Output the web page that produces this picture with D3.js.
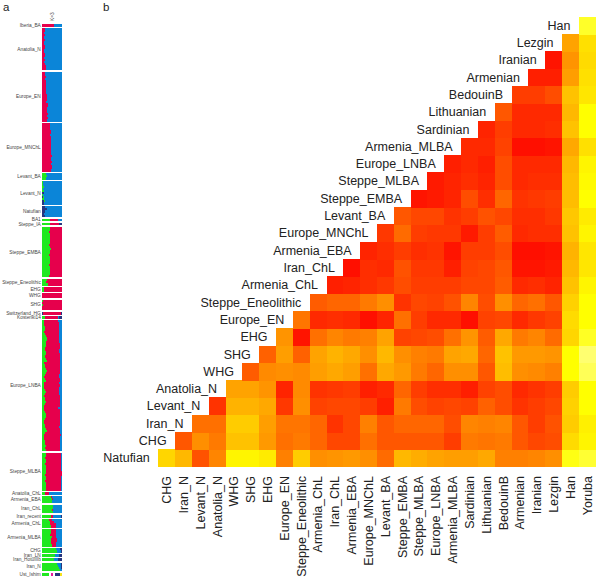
<!DOCTYPE html>
<html lang="en">

<head>
  <meta charset="UTF-8">
  <title>Admixture and f3 heatmap</title>
  <script src="https://d3js.org/d3.v7.min.js"></script>
  <style>
    body {
      margin: 0;
      background: white;
      font-family: 'Liberation Sans', Arial, sans-serif;
    }

    svg {
      display: block;
    }
  </style>
</head>

<body>
  <svg id="chart" width="600" height="578"></svg>
  <script>
    // panel b. 0 = pure red, 50 = yellow, 100 = near white
    const heatColumns = ["CHG", "Iran_N", "Levant_N", "Anatolia_N", "WHG", "SHG", "EHG", "Europe_EN",
      "Steppe_Eneolithic", "Armenia_ChL", "Iran_ChL", "Armenia_EBA", "Europe_MNChL", "Levant_BA",
      "Steppe_EMBA", "Steppe_MLBA", "Europe_LNBA", "Armenia_MLBA", "Sardinian", "Lithuanian",
      "BedouinB", "Armenian", "Iranian", "Lezgin", "Han", "Yoruba"];

    const heatRowNames = ["Natufian", "CHG", "Iran_N", "Levant_N", "Anatolia_N", "WHG", "SHG", "EHG",
      "Europe_EN", "Steppe_Eneolithic", "Armenia_ChL", "Iran_ChL", "Armenia_EBA", "Europe_MNChL",
      "Levant_BA", "Steppe_EMBA", "Steppe_MLBA", "Europe_LNBA", "Armenia_MLBA", "Sardinian",
      "Lithuanian", "BedouinB", "Armenian", "Iranian", "Lezgin", "Han"];

    // each row starts at the column with the same index (staircase)
    const heatValues = [
      [42, 36, 16, 26, 48, 48, 46, 25, 40, 28, 29, 30, 28, 21, 36, 34, 32, 31, 31, 33, 25, 25, 26, 28, 54, 60],
      [17, 28, 24, 38, 38, 30, 22, 24, 20, 14, 14, 22, 17, 17, 17, 17, 12, 24, 23, 24, 17, 14, 15, 43, 48],
      [22, 22, 40, 40, 31, 23, 23, 20, 10, 14, 25, 17, 20, 20, 20, 15, 26, 25, 26, 17, 12, 16, 40, 47],
      [10, 35, 35, 33, 11, 28, 13, 14, 14, 12, 6, 24, 15, 13, 14, 13, 19, 15, 10, 12, 14, 41, 50],
      [32, 32, 29, 7, 27, 10, 11, 12, 6, 8, 20, 12, 9, 9, 6, 13, 15, 8, 10, 12, 40, 50],
      [18, 27, 28, 27, 31, 33, 31, 22, 33, 30, 24, 20, 28, 28, 17, 37, 28, 27, 25, 50, 67],
      [19, 31, 19, 32, 35, 33, 28, 36, 28, 25, 24, 32, 33, 20, 38, 30, 30, 29, 50, 72],
      [29, 4, 22, 26, 24, 25, 32, 13, 14, 15, 22, 29, 18, 33, 24, 26, 21, 42, 57],
      [23, 8, 9, 8, 3, 7, 22, 12, 8, 8, 3, 13, 14, 8, 11, 13, 43, 50],
      [18, 20, 20, 24, 28, 10, 14, 13, 16, 26, 15, 28, 20, 22, 17, 41, 50],
      [6, 7, 9, 11, 15, 12, 12, 12, 14, 14, 18, 8, 9, 7, 38, 48],
      [3, 9, 8, 16, 11, 11, 6, 13, 14, 17, 4, 4, 5, 36, 45],
      [7, 9, 12, 9, 10, 4, 12, 12, 15, 3, 3, 4, 35, 45],
      [11, 21, 12, 11, 11, 5, 12, 18, 8, 9, 9, 38, 48],
      [17, 14, 14, 10, 12, 16, 14, 9, 9, 11, 39, 46],
      [4, 5, 7, 15, 9, 20, 10, 11, 12, 37, 50],
      [5, 7, 9, 7, 15, 8, 9, 9, 37, 49],
      [6, 8, 6, 15, 8, 8, 8, 36, 48],
      [8, 8, 13, 3, 3, 4, 33, 44],
      [7, 12, 8, 8, 9, 38, 50],
      [17, 8, 8, 8, 36, 50],
      [12, 12, 15, 38, 45],
      [6, 6, 31, 44],
      [4, 29, 43],
      [32, 44],
      [58]
    ];

    // panel a, one entry per individual: [green, crimson, left navy, right navy], blue is the rest
    const popNames = ["Iberia_BA", "Anatolia_N", "Europe_EN", "Europe_MNChL", "Levant_BA", "Levant_N",
      "Natufian", "BA1", "Steppe_IA", "Steppe_EMBA", "Steppe_Eneolithic", "EHG", "WHG", "SHG",
      "Switzerland_HG", "Kostenki14", "Europe_LNBA", "Steppe_MLBA", "Anatolia_ChL", "Armenia_EBA",
      "Iran_ChL", "Iran_recent", "Armenia_ChL", "Armenia_MLBA", "CHG", "Iran_LN", "Iran_HotuIIIb",
      "Iran_N", "Ust_Ishim"];

    const popRows = [
      [[0, 58]],
      [[0, 15], [0, 12], [0, 10], [0, 11], [0, 9], [0, 13], [0, 10], [0, 8], [0, 12], [0, 14],
      [0, 10], [0, 9], [0, 13], [0, 11], [0, 8], [0, 12], [0, 10], [0, 14], [0, 18], [0, 20]],
      [[0, 15], [0, 14], [0, 16], [0, 14], [0, 18], [0, 17], [0, 16], [0, 19], [0, 18], [0, 20], [0, 18], [0, 21],
      [0, 22], [0, 24], [0, 20], [0, 26], [0, 28], [0, 24], [0, 22], [0, 24], [0, 26], [0, 25], [0, 26], [0, 24]],
      [[0, 38], [0, 40], [0, 39], [0, 42], [0, 41], [0, 40], [0, 43], [0, 42], [0, 44], [0, 41], [0, 43], [0, 45],
      [0, 44], [0, 42], [0, 43], [0, 46], [0, 44], [0, 45], [0, 47], [0, 44], [0, 46], [0, 48], [0, 45]],
      [[20, 0], [22, 0], [18, 2]],
      [[5, 0], [3, 0], [6, 0], [4, 0, 0, 0], [8, 0], [3, 0, 6], [5, 0], [2, 0, 4], [6, 0], [3, 0, 8], [4, 0, 6]],
      [[0, 0, 15], [0, 0, 22], [0, 0, 14], [0, 0, 10], [0, 0, 12]],
      [[38, 42]],
      [[38, 47, 0, 15]],
      [[36, 64], [38, 62], [35, 65], [40, 60], [37, 63], [36, 64], [38, 62], [39, 61], [35, 65], [37, 63], [41, 59], [36, 64],
      [38, 62], [35, 65], [37, 63], [39, 61], [36, 64], [38, 62], [35, 65], [37, 63], [38, 62], [36, 64], [37, 63], [35, 65]],
      [[25, 75], [20, 78], [28, 70]],
      [[10, 88], [6, 92]],
      [[0, 98], [0, 97]],
      [[1, 99], [0, 98], [2, 98], [0, 99], [0, 98]],
      [[0, 90, 5, 5]],
      [[15, 65, 0, 15]],
      [[6, 74], [7, 78], [9, 72], [12, 70], [14, 68], [10, 72], [15, 66], [18, 64], [22, 60], [25, 58], [18, 66],
      [16, 70], [20, 66], [14, 72], [12, 72], [16, 68], [18, 70], [15, 72], [20, 66], [22, 64], [10, 76],
      [12, 74], [14, 72], [18, 70], [24, 62], [20, 66], [15, 70], [10, 74], [12, 74], [16, 70], [8, 76],
      [6, 80], [10, 72], [14, 68], [16, 66], [11, 74], [8, 78], [12, 76], [15, 72], [18, 70], [14, 74],
      [10, 76], [6, 72], [8, 80], [12, 74], [16, 72], [20, 68], [14, 76], [10, 80], [7, 82], [12, 74],
      [15, 70], [18, 72], [22, 66], [14, 76], [10, 82], [8, 80], [6, 84], [12, 78], [15, 74], [17, 70],
      [12, 78], [18, 72]],
      [[16, 76], [18, 74], [14, 80], [20, 72], [16, 78], [15, 78], [18, 74], [20, 74], [17, 76],
      [16, 80], [14, 82], [18, 74], [16, 78], [15, 80], [18, 76], [16, 76], [20, 74], [17, 78]],
      [[15, 18, 0, 4]],
      [[45, 4], [48, 5, 0, 4], [46, 3]],
      [[52, 2], [55, 0], [50, 3], [55, 0]],
      [[45, 6, 0, 6]],
      [[35, 15], [38, 22], [40, 27], [42, 28]],
      [[42, 28], [44, 26], [40, 30], [46, 24], [42, 30], [45, 28], [43, 26], [46, 22]],
      [[70, 0, 0, 10], [74, 0, 0, 8]],
      [[65, 0, 0, 15]],
      [[60, 0, 0, 20]],
      [[75, 0, 0, 8], [80, 0, 0, 8], [85, 0, 0, 6], [90, 0, 0, 4]],
      [[]]
    ];

    const ustShares = [32, 12, 8, 12, 22, 14];
    const ustColors = ["#1fe81f", "#ffffff", "#e8189c", "#ffffff", "#26367f", "#f6e21b"];

    const green = "#1fe81f", crimson = "#e6004c", blue = "#0b85d8", navy = "#26367f";

    const svg = d3.select("#chart");

    // ---- panel a ----
    const unitCount = d3.sum(popRows, d => d.length) + popRows.length - 1;
    const admixY = d3.scaleLinear().domain([0, unitCount]).range([24, 575]);
    const admixX = d3.scaleLinear().domain([0, 100]).range([42.3, 62.3]);

    const admix = svg.append("g").attr("shape-rendering", "crispEdges");
    let unit = 0;
    popRows.forEach((rows, p) => {
      const start = unit;
      rows.forEach((row, r) => {
        const [g = 0, c = 0, nl = 0, nr = 0] = row;
        let parts = [[nl, navy], [g, green], [c, crimson], [100 - g - c - nl - nr, blue], [nr, navy]];
        if (popNames[p] === "Ust_Ishim") parts = ustShares.map((s, i) => [s, ustColors[i]]);
        const ends = d3.cumsum(parts, d => d[0]);
        admix.selectAll(null)
          .data(parts)
          .join("rect")
          .attr("x", (d, i) => admixX(ends[i] - d[0]))
          .attr("width", (d, i) => admixX(ends[i]) - admixX(ends[i] - d[0]))
          .attr("y", admixY(unit + r))
          .attr("height", admixY(1) - admixY(0) + 0.5)
          .attr("fill", d => d[1]);
      });
      unit += rows.length;
      svg.append("text")
        .attr("x", 40.8)
        .attr("y", admixY((start + unit) / 2) + 1.7)
        .attr("text-anchor", "end")
        .attr("font-size", 4.8)
        .attr("fill", "#444")
        .text(popNames[p]);
      unit += 1;
    });

    svg.append("text")
      .attr("transform", `translate(53.5,21) rotate(-90)`)
      .attr("font-size", 4.8)
      .attr("fill", "#444")
      .text("K=3");

    // ---- panel b ----
    const heatX = d3.scaleBand().domain(heatColumns).range([158.3, 595.7]);
    const heatY = d3.scaleBand().domain(heatRowNames.slice().reverse()).range([16.7, 466.7]);
    const heatColor = d3.scaleLinear()
      .domain([0, 50, 100])
      .range(["#ff0000", "#ffff00", "#ffffff"]);

    const cells = heatValues.flatMap((values, r) =>
      values.map((v, i) => ({ row: heatRowNames[r], col: heatColumns[r + i], v })));

    svg.append("g")
      .attr("shape-rendering", "crispEdges")
      .selectAll("rect")
      .data(cells)
      .join("rect")
      .attr("x", d => heatX(d.col))
      .attr("y", d => heatY(d.row))
      .attr("width", heatX.bandwidth() + 0.5)
      .attr("height", heatY.bandwidth() + 0.5)
      .attr("fill", d => heatColor(d.v));

    // row labels follow the staircase
    svg.append("g")
      .selectAll("text")
      .data(heatRowNames)
      .join("text")
      .attr("x", (d, i) => heatX(heatColumns[i]) - 8.5)
      .attr("y", d => heatY(d) + heatY.bandwidth() / 2)
      .attr("dy", "0.35em")
      .attr("text-anchor", "end")
      .attr("font-size", 12.5)
      .attr("fill", "#222")
      .text(d => d);

    const colAxis = svg.append("g")
      .attr("transform", "translate(0,476)")
      .call(d3.axisBottom(heatX).tickSize(0).tickPadding(0));
    colAxis.select(".domain").remove();
    colAxis.selectAll("text")
      .attr("transform", "rotate(-90)")
      .attr("x", 0)
      .attr("y", 0)
      .attr("dy", "0.35em")
      .attr("text-anchor", "end")
      .attr("font-family", "'Liberation Sans', Arial, sans-serif")
      .attr("font-size", 12.5)
      .attr("fill", "#222");

    // panel letters
    svg.append("text").attr("x", 3).attr("y", 10.5).attr("font-size", 11.5).attr("fill", "#222").text("a");
    svg.append("text").attr("x", 103).attr("y", 10.5).attr("font-size", 11.5).attr("fill", "#222").text("b");
  </script>
</body>

</html>
